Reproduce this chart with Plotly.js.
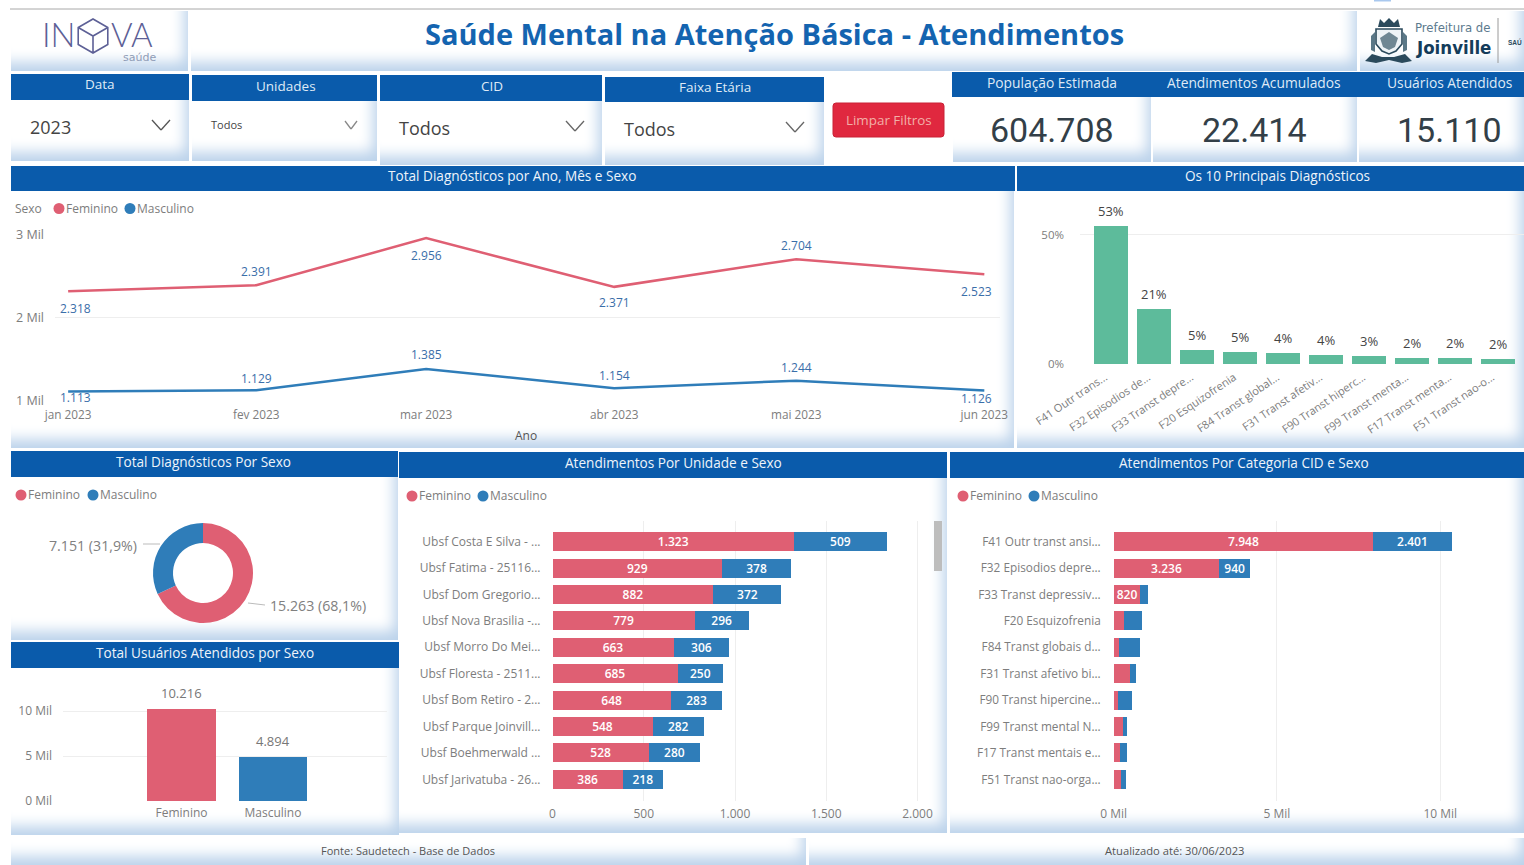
<!DOCTYPE html>
<html><head><meta charset="utf-8">
<script src="https://cdn.plot.ly/plotly-3.0.1.min.js"></script>
<style>
html,body{margin:0;padding:0;background:#fff;width:1524px;height:865px;overflow:hidden}
#bg{position:absolute;left:0;top:0;width:1524px;height:865px}
#bg div{position:absolute;box-sizing:border-box}
.p{background:#fff;box-shadow:inset -9px -14px 14px -5px #bcd3eb}
.h{background:#0a5bab}
#chart{position:absolute;left:0;top:0;width:1524px;height:865px}
</style></head><body>
<div id="bg"></div><div id="chart"></div>
<script>
// ---------- data ----------
const meses = ['2023-01-01','2023-02-01','2023-03-01','2023-04-01','2023-05-01','2023-06-01'];
const mesesRotulo = ['jan 2023','fev 2023','mar 2023','abr 2023','mai 2023','jun 2023'];
const mesFeminino = [2318,2391,2956,2371,2704,2523];
const mesMasculino = [1113,1129,1385,1154,1244,1126];
const diagCategorias = ['F41 Outr trans...','F32 Episodios de...','F33 Transt depre...','F20 Esquizofrenia','F84 Transt global...','F31 Transt afetiv...','F90 Transt hiperc...','F99 Transt menta...','F17 Transt menta...','F51 Transt nao-o...'];
const diagPercent = [53.3,21.4,5.4,4.7,4.4,3.6,3.1,2.3,2.2,2.1];
const sexos = ['Feminino','Masculino'];
const diagSexo = [15263,7151];
const usuariosSexo = [10216,4894];
const unidades = ['Ubsf Costa E Silva - ...','Ubsf Fatima - 25116...','Ubsf Dom Gregorio...','Ubsf Nova Brasilia -...','Ubsf Morro Do Mei...','Ubsf Floresta - 2511...','Ubsf Bom Retiro - 2...','Ubsf Parque Joinvill...','Ubsf Boehmerwald ...','Ubsf Jarivatuba - 26...'];
const unidFeminino = [1323,929,882,779,663,685,648,548,528,386];
const unidMasculino = [509,378,372,296,306,250,283,282,280,218];
const cidCategorias = ['F41 Outr transt ansi...','F32 Episodios depre...','F33 Transt depressiv...','F20 Esquizofrenia','F84 Transt globais d...','F31 Transt afetivo bi...','F90 Transt hipercine...','F99 Transt mental N...','F17 Transt mentais e...','F51 Transt nao-orga...'];
const cidFeminino = [7948,3236,820,316,170,500,145,285,190,225];
const cidMasculino = [2401,940,225,551,640,175,405,125,205,155];
const kpis = [['População Estimada','604.708',1052],['Atendimentos Acumulados','22.414',1254],['Usuários Atendidos','15.110',1449]];

// ---------- style ----------
const W=1524,H=865;
const RED='#df5f73',BLUE='#2f7db9',TEAL='#5dbb9b',HEAD='#0a5bab';
const FONT='"Open Sans", sans-serif', GRAY='#7d7d7d', GRID='#eeeeee';
const fmt=v=>String(v).replace(/\B(?=(\d{3})+$)/g,'.');
const X=p=>p/W, Y=p=>1-p/H;
const dx=(a,b)=>[X(a),X(b)], dy=(t,b)=>[Y(b),Y(t)];

// ---------- background panels (CSS gradients) ----------
const panels=[
 ['p',11,11,177,60],['p',191,11,1166,60],['p',1360,11,164,60],
 ['p',11,100,178,61],['p',192,101,185,60],['p',380,101,222,64],['p',605,102,219,63],
 ['p',953,97,198,65],['p',1153,97,204,65],['p',1359,97,165,65],
 ['p',11,191,1003,257],['p',1017,191,507,257],
 ['p',11,477,387,163],['p',11,668,388,167],['p',399,478,548,355],['p',950,478,574,355],
 ['p',11,838,795,27],['p',809,838,715,27],
 ['h',11,74,178,26],['h',192,75,185,26],['h',380,75,222,26],['h',605,77,219,25],
 ['h',952,72,572,25],['h',11,166,1004,25],['h',1017,166,507,25],
 ['h',11,451,387,26],['h',11,642,388,26],['h',399,452,548,26],['h',950,452,574,26]
];
const bg=document.getElementById('bg');
panels.forEach(([c,l,t,w,h])=>{const d=document.createElement('div');d.className=c;d.style.cssText=`left:${l}px;top:${t}px;width:${w}px;height:${h}px`;bg.appendChild(d);});

// ---------- overlay text and shapes ----------
const ann=[],shp=[];
function T(x,y,text,size,color,anchor,font){ann.push({xref:'paper',yref:'paper',x:X(x),y:Y(y),text,showarrow:false,xanchor:anchor||'center',yanchor:'middle',font:{size,color,family:font||FONT},borderpad:0,borderwidth:0});}
function line(x0,y0,x1,y1,c,w){shp.push({type:'line',xref:'paper',yref:'paper',x0:X(x0),y0:Y(y0),x1:X(x1),y1:Y(y1),line:{color:c,width:w||1}});}
function rect(x0,y0,x1,y1,c){shp.push({type:'rect',xref:'paper',yref:'paper',x0:X(x0),y0:Y(y0),x1:X(x1),y1:Y(y1),fillcolor:c,line:{width:0}});}
function dot(x,y,r,c){shp.push({type:'circle',xref:'paper',yref:'paper',x0:X(x-r),y0:Y(y+r),x1:X(x+r),y1:Y(y-r),fillcolor:c,line:{width:0}});}
function poly(pts,fill,lc,lw){let d='';let move=true;pts.forEach(p=>{if(p==='M'){move=true;return;}if(p==='Z'){d+=' Z';return;}d+=(move?' M':' L')+X(p[0])+','+Y(p[1]);move=false;});shp.push({type:'path',xref:'paper',yref:'paper',path:d.trim(),fillcolor:fill||'rgba(0,0,0,0)',line:{color:lc||'rgba(0,0,0,0)',width:lw||0}});}
function chev(x,y,w,h,c){line(x-w,y-h,x,y+h,c,1.3);line(x,y+h,x+w,y-h,c,1.3);}
function legend(x,y,gap){dot(x,y,5.5,RED);T(x+7,y-.5,sexos[0],12,GRAY,'left');dot(x+gap,y,5.5,BLUE);T(x+gap+7,y-.5,sexos[1],12,GRAY,'left');}

line(10,9,1524,9,'#a8a8a8',1);
rect(1374,0,1391,1.5,'#a9c8ee');
// INOVA logo
const LOGOF='Lato, sans-serif';
T(42,34,'IN',33,'#5d6096','left',LOGOF);ann[ann.length-1].font.weight=300;
T(111,34,'VA',33,'#5d6096','left',LOGOF);ann[ann.length-1].font.weight=300;
T(156,57,'saúde',11,'#8f9cb6','right','"DejaVu Sans", sans-serif');
const hx=93,hy=36,hr=17;
poly([[hx,hy-hr],[hx+hr*.87,hy-hr/2],[hx+hr*.87,hy+hr/2],[hx,hy+hr],[hx-hr*.87,hy+hr/2],[hx-hr*.87,hy-hr/2],'Z','M',[hx-hr*.87,hy-hr/2],[hx,hy],[hx+hr*.87,hy-hr/2],'M',[hx,hy],[hx,hy+hr]],null,'#5d6096',1.6);
// Title
T(774.5,33.5,'<b>Saúde Mental na Atenção Básica - Atendimentos</b>',29,'#1464b0','center','"Open Sans", sans-serif');
// Joinville logo
const NAVY='#2b4a5c';
poly([[1365,61],[1372,54],[1382,57],[1394,57],[1405,54],[1412,61],[1402,63],[1389,60],[1376,63],'Z'],NAVY);
poly([[1376,29],[1402,29],[1402,44],[1396,51],[1389,54],[1382,51],[1376,44],'Z'],'#eef3f6',NAVY,1.6);
poly([[1389,32],[1398,38],[1395,47],[1389,50],[1383,47],[1380,38],'Z'],'#6f8793');
poly([[1378,27],[1380,19],[1384,23],[1389,18],[1394,23],[1398,19],[1400,27],'Z'],NAVY);
poly([[1371,36],[1375,32],[1375,52],[1371,50],'Z'],'#5b7887');
poly([[1407,36],[1403,32],[1403,52],[1407,50],'Z'],'#5b7887');
const NARROW='"DejaVu Sans Condensed","Liberation Sans",sans-serif';
T(1452,27,'Prefeitura de',13,'#5c7a8e','center',NARROW);
T(1453,48,'<b>Joinville</b>',18.5,'#143c5a','center',NARROW);
line(1498,18,1498,63,'#9a9a9a',1);
T(1508,42,'<b>SAÚ</b>',6.5,'#2b4a5c','left','"Liberation Sans", sans-serif');
// Filters
T(100,84.5,'Data',13.5,'#dfeaf6');T(286,86,'Unidades',13.5,'#dfeaf6');T(492,86,'CID',13.5,'#dfeaf6');T(715,87,'Faixa Etária',13.5,'#dfeaf6');
T(30,127,'2023',18,'#444','left');T(211,125,'Todos',11,'#444','left');T(399,128,'Todos',18,'#444','left');T(624,129,'Todos',18,'#444','left');
chev(161,125,9,5,'#555');chev(351,125,6,4,'#888');chev(575,126,9,5,'#666');chev(795,127,9,5,'#666');
// button with rounded corners
{const a=833,b=103,c=944,d=137,r=3;
 shp.push({type:'path',xref:'paper',yref:'paper',fillcolor:'#e0283f',line:{color:'#c92236',width:1},
  path:`M${X(a+r)},${Y(b)} L${X(c-r)},${Y(b)} Q${X(c)},${Y(b)} ${X(c)},${Y(b+r)} L${X(c)},${Y(d-r)} Q${X(c)},${Y(d)} ${X(c-r)},${Y(d)} L${X(a+r)},${Y(d)} Q${X(a)},${Y(d)} ${X(a)},${Y(d-r)} L${X(a)},${Y(b+r)} Q${X(a)},${Y(b)} ${X(a+r)},${Y(b)} Z`});}
T(888.5,120,'Limpar Filtros',13.4,'#f2b0a8');
// KPI
kpis.forEach(k=>{T(k[2],82.5,k[0],13.8,'#dfeaf6');T(k[2],130,k[1],34,'#333f48','center','"Roboto", sans-serif');});
// Section headers
T(512,175.5,'Total Diagnósticos por Ano, Mês e Sexo',13.6,'#eef4fa');
T(1277,175.5,'Os 10 Principais Diagnósticos',13.6,'#eef4fa');
T(203,461.5,'Total Diagnósticos Por Sexo',13.6,'#eef4fa');
T(205,652.5,'Total Usuários Atendidos por Sexo',13.6,'#eef4fa');
T(673,462.5,'Atendimentos Por Unidade e Sexo',13.6,'#eef4fa');
T(1244,462.5,'Atendimentos Por Categoria CID e Sexo',13.6,'#eef4fa');
T(408,850.5,'Fonte: Saudetech - Base de Dados',11,'#555');
T(1174,850.5,'Atualizado até: 30/06/2023',11.2,'#555');
// Legends
T(15,208.5,'Sexo',12,GRAY,'left');legend(59,208.5,71);
legend(21,495,72);legend(412,496,71);legend(963,496,71);
// Scrollbar
rect(934,521,942,571,'#bdbdbd');
// Line chart data labels
const fShift=[17,-14,17,16,-14,17], mShift=[6,-12,-14,-13,-13,8], xs=[7,0,0,0,0,-8];
meses.forEach((m,i)=>{
 [[mesFeminino,fShift],[mesMasculino,mShift]].forEach(([arr,s])=>{
  ann.push({xref:'x',yref:'y',x:m,y:arr[i],text:fmt(arr[i]),showarrow:false,xshift:xs[i],yshift:-s[i],font:{size:12,color:'#3a6ea9',family:FONT}});
 });
});
T(526,435.5,'Ano',12,'#555');
// Bar labels above the columns
diagCategorias.forEach((c,i)=>ann.push({xref:'x2',yref:'y2',x:c,y:diagPercent[i],text:Math.round(diagPercent[i])+'%',showarrow:false,yshift:15,font:{size:13,color:'#444',family:FONT}}));
sexos.forEach((c,i)=>ann.push({xref:'x3',yref:'y3',x:c,y:usuariosSexo[i],text:fmt(usuariosSexo[i]),showarrow:false,yshift:16,font:{size:13,color:'#777',family:FONT}}));
// Donut labels
const tot=diagSexo[0]+diagSexo[1];
const pc=v=>(v/tot*100).toFixed(1).replace('.',',')+'%';
T(137,545,fmt(diagSexo[1])+' ('+pc(diagSexo[1])+')',14.2,'#808080','right');
T(270,605,fmt(diagSexo[0])+' ('+pc(diagSexo[0])+')',14.2,'#808080','left');
line(143,544,160,544,'#bbbbbb',1);line(248,603,265,605,'#bbbbbb',1);

// ---------- traces ----------
const data=[
 {type:'scatter',mode:'lines',x:meses,y:mesFeminino,xaxis:'x',yaxis:'y',line:{color:RED,width:2.5},cliponaxis:false,hoverinfo:'skip'},
 {type:'scatter',mode:'lines',x:meses,y:mesMasculino,xaxis:'x',yaxis:'y',line:{color:BLUE,width:2.5},cliponaxis:false,hoverinfo:'skip'},
 {type:'bar',x:diagCategorias,y:diagPercent,xaxis:'x2',yaxis:'y2',width:.79,marker:{color:TEAL},cliponaxis:false,hoverinfo:'skip'},
 {type:'pie',labels:sexos,values:diagSexo,hole:.6,sort:false,direction:'clockwise',rotation:0,textinfo:'none',showlegend:false,marker:{colors:[RED,BLUE],line:{width:0}},domain:{x:dx(153,253),y:dy(523,623)},hoverinfo:'skip'},
 {type:'bar',x:sexos,y:usuariosSexo,xaxis:'x3',yaxis:'y3',width:.754,marker:{color:[RED,BLUE]},cliponaxis:false,hoverinfo:'skip'}
];
function stacked(cats,vals,color,xa,ya,minLabel){
 data.push({type:'bar',orientation:'h',y:cats,x:vals,xaxis:xa,yaxis:ya,width:.72,marker:{color},
  text:vals.map(v=>v>=minLabel?fmt(v):''),textposition:'inside',insidetextanchor:'middle',constraintext:'none',textangle:0,
  textfont:{size:12,color:'#fff',family:FONT,weight:600},hoverinfo:'skip'});
}
stacked(unidades,unidFeminino,RED,'x4','y4',0);
stacked(unidades,unidMasculino,BLUE,'x4','y4',0);
stacked(cidCategorias,cidFeminino,RED,'x5','y5',800);
stacked(cidCategorias,cidMasculino,BLUE,'x5','y5',800);

// ---------- layout ----------
const tf=s=>({size:s||11,color:GRAY,family:FONT});
const base={fixedrange:true,zeroline:false,showline:false,ticks:''};
const layout={
 width:W,height:H,autosize:false,margin:{l:0,r:0,t:0,b:0,pad:0},paper_bgcolor:'rgba(0,0,0,0)',plot_bgcolor:'rgba(0,0,0,0)',
 showlegend:false,barmode:'stack',bargap:.21,annotations:ann,shapes:shp,hovermode:false,
 xaxis:{...base,type:'date',domain:dx(55,1000),range:['2022-12-29 20:00','2023-06-03 14:00'],tickvals:meses,ticktext:mesesRotulo,tickangle:0,showgrid:false,tickfont:tf(11.8),ticklabelstandoff:5,anchor:'y'},
 yaxis:{...base,domain:dy(234.5,401),range:[1000,3000],tickvals:[1000,2000,3000],ticktext:['1 Mil','2 Mil','3 Mil'],gridcolor:GRID,tickfont:tf(12.5),ticklabelstandoff:10,anchor:'x'},
 xaxis2:{...base,type:'category',domain:dx(1080,1524),range:[-.72,9.6],tickangle:-34,showgrid:false,tickfont:tf(11),ticklabelstandoff:4,ticklabelshift:-6,anchor:'y2'},
 yaxis2:{...base,domain:dy(222,364),range:[0,55],tickvals:[0,50],ticktext:['0%','50%'],gridcolor:GRID,tickfont:tf(11.5),ticklabelstandoff:15,anchor:'x2'},
 xaxis3:{...base,type:'category',domain:dx(63,387),range:[-1.295,2.246],showgrid:false,tickfont:tf(12),ticklabelstandoff:3,anchor:'y3'},
 yaxis3:{...base,domain:dy(702,801),range:[0,11000],tickvals:[0,5000,10000],ticktext:['0 Mil','5 Mil','10 Mil'],gridcolor:GRID,tickfont:tf(12),ticklabelstandoff:10,anchor:'x3'},
 xaxis4:{...base,domain:dx(552.5,925),range:[0,2041],tickvals:[0,500,1000,1500,2000],ticktext:['0','500','1.000','1.500','2.000'],gridcolor:GRID,tickfont:tf(12),ticklabelstandoff:4,anchor:'y4'},
 yaxis4:{...base,type:'category',domain:dy(520.5,800.5),range:[9.8,-.8],showgrid:false,tickfont:tf(12),ticklabelstandoff:11,anchor:'x4'},
 xaxis5:{...base,domain:dx(1113.7,1515),range:[0,12290],tickvals:[0,5000,10000],ticktext:['0 Mil','5 Mil','10 Mil'],gridcolor:GRID,tickfont:tf(12),ticklabelstandoff:4,anchor:'y5'},
 yaxis5:{...base,type:'category',domain:dy(520.5,800.5),range:[9.8,-.8],showgrid:false,tickfont:tf(11.8),ticklabelstandoff:12,anchor:'x5'}
};
Plotly.newPlot('chart',data,layout,{displayModeBar:false,staticPlot:true,responsive:false});
</script></body></html>
